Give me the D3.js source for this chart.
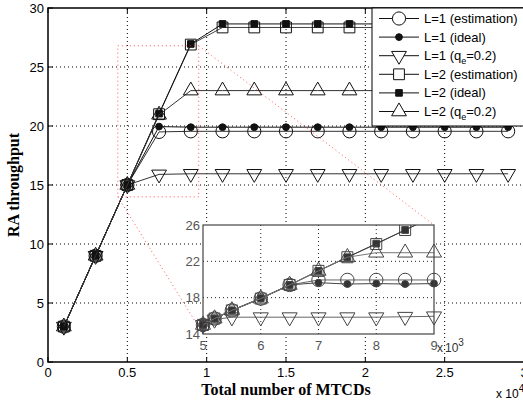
<!DOCTYPE html>
<html>
<head>
<meta charset="utf-8">
<script src="https://cdn.jsdelivr.net/npm/d3@7"></script>
<style>
  html, body { margin: 0; padding: 0; background: #fff; }
  svg { display: block; }
</style>
</head>
<body>
<svg id="chart" width="523" height="400"></svg>
<script>
// Total number of MTCDs (x 10^4) for the main axes
const mtcdMain = [0.1, 0.3, 0.5, 0.7, 0.9, 1.1, 1.3, 1.5, 1.7, 1.9, 2.1, 2.3, 2.5, 2.7, 2.9];
const mainL1Est   = [3, 9, 15, 19.5, 19.55, 19.55, 19.55, 19.55, 19.55, 19.55, 19.55, 19.55, 19.55, 19.55, 19.55];
const mainL1Ideal = [3, 9, 15, 19.95, 19.9, 19.9, 19.9, 19.9, 19.9, 19.9, 19.9, 19.9, 19.9, 19.9, 19.9];
const mainL1Q     = [3, 9, 15, 15.9, 15.95, 15.95, 15.95, 15.95, 15.95, 15.95, 15.95, 15.95, 15.95, 15.95, 15.95];
const mainL2Est   = [3, 9, 15, 21.0, 26.9, 28.35, 28.35, 28.35, 28.35, 28.35, 28.35, 28.35, 28.35, 28.35, 28.35];
const mainL2Ideal = [3, 9, 15, 21.05, 26.95, 28.65, 28.65, 28.65, 28.65, 28.65, 28.65, 28.65, 28.65, 28.65, 28.65];
const mainL2Q     = [3, 9, 15, 20.95, 23.0, 23.0, 23.0, 23.0, 23.0, 23.0, 23.0, 23.0, 23.0, 23.0, 23.0];

// Close-up (x 10^3)
const mtcdInset = [5, 5.2, 5.5, 6, 6.5, 7, 7.5, 8, 8.5, 9];
const insetL1Est   = [15, 15.7, 16.6, 17.9, 19.4, 19.95, 19.95, 19.95, 19.95, 19.95];
const insetL1Ideal = [15, 15.7, 16.6, 17.9, 19.4, 19.65, 19.5, 19.55, 19.5, 19.55];
const insetL1Q     = [15, 15.6, 15.85, 15.85, 15.85, 15.85, 15.85, 15.85, 15.9, 15.95];
const insetL2Est   = [15, 15.7, 16.6, 17.9, 19.4, 20.95, 22.45, 23.9, 25.45, 26.95];
const insetL2Ideal = [15, 15.7, 16.6, 17.95, 19.4, 20.95, 22.45, 23.95, 25.45, 26.95];
const insetL2Q     = [15, 15.7, 16.6, 17.9, 19.4, 20.95, 22.45, 22.95, 22.95, 22.95];

const seriesNames = ["L=1 (estimation)", "L=1 (ideal)", "L=1 (q_e=0.2)", "L=2 (estimation)", "L=2 (ideal)", "L=2 (q_e=0.2)"];
const seriesMarkers = ["circle", "dot", "triDown", "square", "fsquare", "triUp"];

const mainTicksX = [0, 0.5, 1, 1.5, 2, 2.5, 3];
const mainTicksY = [0, 5, 10, 15, 20, 25, 30];
const insetTicksX = [5, 6, 7, 8, 9];
const insetTicksY = [14, 18, 22, 26];

// region of the main axes that the close-up enlarges
const zoomX = [0.44, 0.95];
const zoomY = [14, 26.8];

const svg = d3.select("#chart");
const SANS = "'Liberation Sans', Arial, Helvetica, sans-serif";
const SERIF = "'Liberation Serif', 'Times New Roman', serif";

const x = d3.scaleLinear().domain([0, 3]).range([48, 524]);
const y = d3.scaleLinear().domain([0, 30]).range([362, 8]);
const xi = d3.scaleLinear().domain([5, 9]).range([203, 434]);
const yi = d3.scaleLinear().domain([14, 26]).range([334, 225]);

function markerPath(type, k) {
  k = k || 1;
  const r = 6.6 * k, w = 7.4 * k, s = 5.4 * k, fs = 3.3 * k, dr = 3.4 * k;
  const h = Math.sqrt(3) * w;
  switch (type) {
    case "circle": return `M${r},0A${r},${r} 0 1,1 ${-r},0A${r},${r} 0 1,1 ${r},0Z`;
    case "dot": return `M${dr},0A${dr},${dr} 0 1,1 ${-dr},0A${dr},${dr} 0 1,1 ${dr},0Z`;
    case "square": return `M${-s},${-s}H${s}V${s}H${-s}Z`;
    case "fsquare": return `M${-fs},${-fs}H${fs}V${fs}H${-fs}Z`;
    case "triUp": return `M0,${-2 * h / 3}L${w},${h / 3}L${-w},${h / 3}Z`;
    case "triDown": return `M0,${2 * h / 3}L${w},${-h / 3}L${-w},${-h / 3}Z`;
  }
}
const filled = t => t === "dot" || t === "fsquare";

function drawSeries(g, xs, ys, sx, sy, type, opts) {
  const line = d3.line().x((d, i) => sx(xs[i])).y(d => sy(d));
  g.append("path").datum(ys).attr("d", line)
    .attr("fill", "none").attr("stroke", opts.line).attr("stroke-width", 1);
  g.selectAll(null).data(ys).enter().append("path")
    .attr("transform", (d, i) => `translate(${sx(xs[i])},${sy(d)})`)
    .attr("d", markerPath(type, opts.k))
    .attr("fill", filled(type) ? opts.fill : "none")
    .attr("stroke", opts.edge).attr("stroke-width", 1);
}

// ---------- main axes ----------
const main = svg.append("g");
// grid
main.selectAll(".gx").data(mainTicksX.filter(v => v > 0 && v < 3)).enter().append("line")
  .attr("x1", d => x(d)).attr("x2", d => x(d)).attr("y1", y(0)).attr("y2", y(30))
  .attr("stroke", "#000").attr("stroke-width", 1).attr("stroke-dasharray", "1,3");
main.selectAll(".gy").data(mainTicksY.filter(v => v > 0 && v < 30)).enter().append("line")
  .attr("x1", x(0)).attr("x2", x(3)).attr("y1", d => y(d)).attr("y2", d => y(d))
  .attr("stroke", "#000").attr("stroke-width", 1).attr("stroke-dasharray", "1,3");

// data
const mainSeries = [mainL1Est, mainL1Ideal, mainL1Q, mainL2Est, mainL2Ideal, mainL2Q];
const mainLineColors = ["#333", "#111", "#333", "#444", "#111", "#333"];
mainSeries.forEach((ys, i) => drawSeries(main, mtcdMain, ys, x, y, seriesMarkers[i],
  { line: mainLineColors[i], edge: "#111", fill: "#111", k: 1 }));

// frame and ticks
main.append("path")
  .attr("d", `M${x(3)},${y(30)}H${x(0)}V${y(0)}H${x(3)}`)
  .attr("fill", "none").attr("stroke", "#000").attr("stroke-width", 1.5);
main.selectAll(".tx").data(mainTicksX).enter().append("path")
  .attr("d", d => `M${x(d)},${y(0)}v-5M${x(d)},${y(30)}v5`)
  .attr("stroke", "#000").attr("stroke-width", 1);
main.selectAll(".ty").data(mainTicksY).enter().append("path")
  .attr("d", d => `M${x(0)},${y(d)}h5`)
  .attr("stroke", "#000").attr("stroke-width", 1);

main.selectAll(".lx").data(mainTicksX).enter().append("text")
  .attr("x", d => x(d)).attr("y", 377).attr("text-anchor", "middle")
  .attr("font-family", SANS).attr("font-size", 13).attr("fill", "#000")
  .text(d => d);
main.selectAll(".ly").data(mainTicksY).enter().append("text")
  .attr("x", 44).attr("y", d => y(d) + 4.5).attr("text-anchor", "end")
  .attr("font-family", SANS).attr("font-size", 13).attr("fill", "#000")
  .text(d => d);

const mult = main.append("text").attr("x", 496).attr("y", 398)
  .attr("font-family", SANS).attr("font-size", 12).attr("fill", "#000").text("x 10");
mult.append("tspan").attr("dy", -6).attr("font-size", 10).text("4");

main.append("text").attr("x", (x(0) + x(3)) / 2).attr("y", 395).attr("text-anchor", "middle")
  .attr("font-family", SERIF).attr("font-weight", "bold").attr("font-size", 16)
  .text("Total number of MTCDs");
main.append("text").attr("transform", `translate(19,${(y(0) + y(30)) / 2}) rotate(-90)`)
  .attr("text-anchor", "middle")
  .attr("font-family", SERIF).attr("font-weight", "bold").attr("font-size", 16)
  .text("RA throughput");

// zoom box and connectors
const zx0 = x(zoomX[0]), zx1 = x(zoomX[1]), zy0 = y(zoomY[0]), zy1 = y(zoomY[1]);
const red = main.append("g").attr("stroke", "#ff3b3b").attr("stroke-width", 1)
  .attr("stroke-dasharray", "1,3").attr("fill", "none").attr("opacity", 0.85);
red.append("rect").attr("x", zx0).attr("y", zy1).attr("width", zx1 - zx0).attr("height", zy0 - zy1);
red.append("line").attr("x1", zx1).attr("y1", zy1).attr("x2", xi(9)).attr("y2", yi(26));
red.append("line").attr("x1", zx0).attr("y1", zy0).attr("x2", xi(5)).attr("y2", yi(14));

// ---------- close-up axes ----------
const inset = svg.append("g");
inset.append("rect").attr("x", xi(5)).attr("y", yi(26))
  .attr("width", xi(9) - xi(5)).attr("height", yi(14) - yi(26)).attr("fill", "#fff");
inset.selectAll(".igx").data(insetTicksX.slice(1, -1)).enter().append("line")
  .attr("x1", d => xi(d)).attr("x2", d => xi(d)).attr("y1", yi(14)).attr("y2", yi(26))
  .attr("stroke", "#222").attr("stroke-dasharray", "1,3");
inset.selectAll(".igy").data(insetTicksY.slice(1, -1)).enter().append("line")
  .attr("x1", xi(5)).attr("x2", xi(9)).attr("y1", d => yi(d)).attr("y2", d => yi(d))
  .attr("stroke", "#222").attr("stroke-dasharray", "1,3");

svg.append("defs").append("clipPath").attr("id", "insetClip").append("rect")
  .attr("x", xi(5) - 8).attr("y", yi(26)).attr("width", xi(9) - xi(5) + 16).attr("height", yi(14) - yi(26) + 8);
const insetData = inset.append("g").attr("clip-path", "url(#insetClip)");
const insetSeries = [insetL1Est, insetL1Ideal, insetL1Q, insetL2Est, insetL2Ideal, insetL2Q];
const insetLineColors = ["#666", "#444", "#666", "#777", "#333", "#777"];
insetSeries.forEach((ys, i) => drawSeries(insetData, mtcdInset, ys, xi, yi, seriesMarkers[i],
  { line: insetLineColors[i], edge: "#444", fill: "#333", k: 1.02 }));

inset.append("rect").attr("x", xi(5)).attr("y", yi(26))
  .attr("width", xi(9) - xi(5)).attr("height", yi(14) - yi(26))
  .attr("fill", "none").attr("stroke", "#444").attr("stroke-width", 1.2);
inset.selectAll(".itx").data(insetTicksX).enter().append("text")
  .attr("x", d => xi(d)).attr("y", 350).attr("text-anchor", "middle")
  .attr("font-family", SANS).attr("font-size", 13).attr("fill", "#555").text(d => d);
inset.selectAll(".ity").data(insetTicksY).enter().append("text")
  .attr("x", 200).attr("y", d => yi(d) + 4.5).attr("text-anchor", "end")
  .attr("font-family", SANS).attr("font-size", 13).attr("fill", "#555").text(d => d);
const imult = inset.append("text").attr("x", 437).attr("y", 352)
  .attr("font-family", SANS).attr("font-size", 12).attr("fill", "#333").text("x");
imult.append("tspan").attr("dx", 2).text("10");
imult.append("tspan").attr("dy", -6).attr("font-size", 10).text("3");

// ---------- legend ----------
const leg = svg.append("g");
leg.append("rect").attr("x", 372).attr("y", 8).attr("width", 160).attr("height", 118)
  .attr("fill", "#fff").attr("stroke", "#000").attr("stroke-width", 1);
seriesNames.forEach((name, i) => {
  const cy = 18.5 + i * 18.6;
  const row = leg.append("g");
  row.append("line").attr("x1", 379).attr("x2", 419).attr("y1", cy).attr("y2", cy)
    .attr("stroke", "#111").attr("stroke-width", 1);
  const t = seriesMarkers[i];
  row.append("path").attr("transform", `translate(399,${cy})`).attr("d", markerPath(t, 1))
    .attr("fill", filled(t) ? "#111" : "#fff").attr("stroke", "#111");
  const txt = row.append("text").attr("x", 424).attr("y", cy + 4.5)
    .attr("font-family", SANS).attr("font-size", 13).attr("fill", "#000");
  const parts = name.split("_");
  if (parts.length === 1) {
    txt.text(name);
  } else {
    txt.append("tspan").text(parts[0]);
    txt.append("tspan").attr("dy", 4).attr("font-size", 9).text(parts[1].charAt(0));
    txt.append("tspan").attr("dy", -4).text(parts[1].slice(1));
  }
});
</script>
</body>
</html>
